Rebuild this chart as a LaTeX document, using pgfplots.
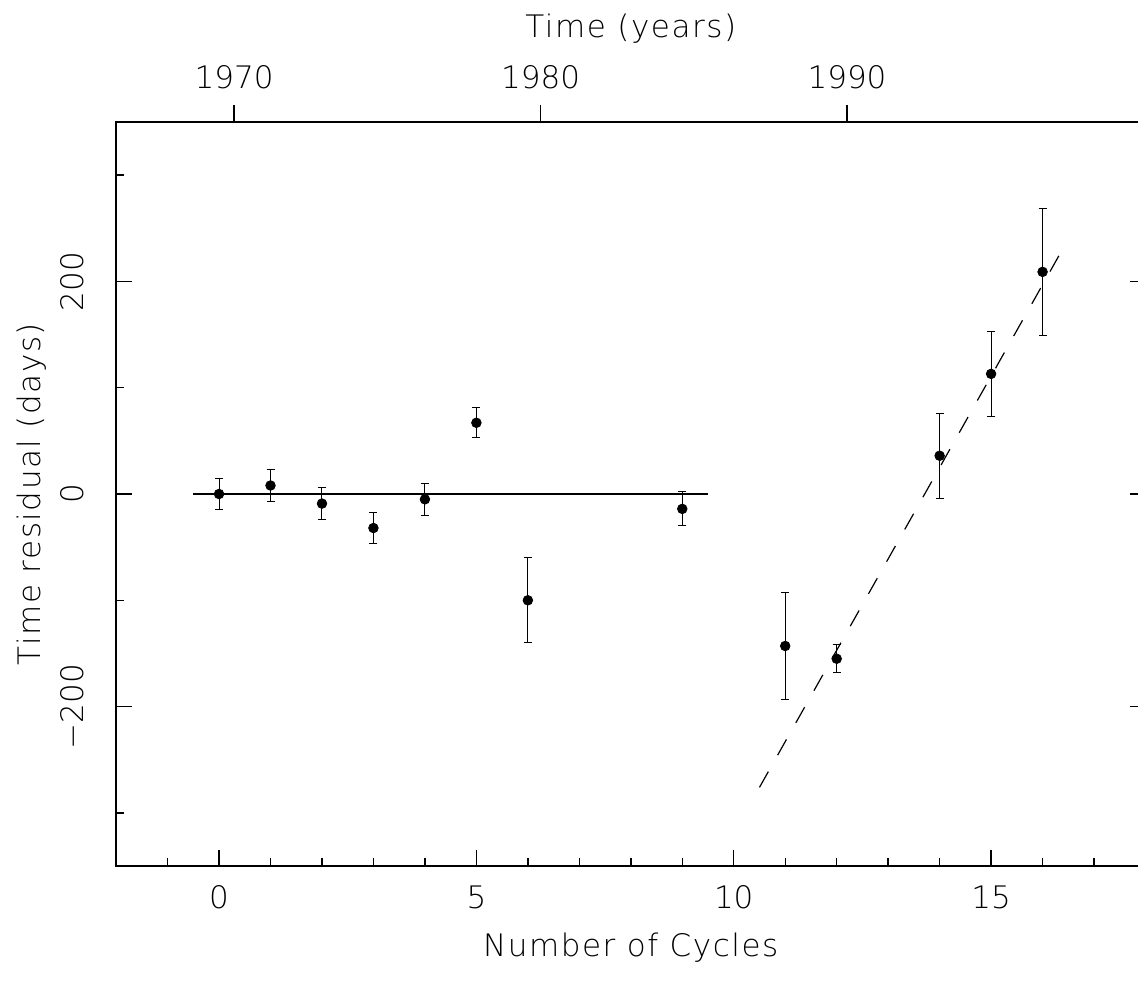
\documentclass[border=0pt]{standalone}
\usepackage{fontspec}
\setmainfont{DejaVu Sans ExtraLight}
\usepackage{pgfplots}
\pgfplotsset{compat=1.18}

\pgfplotstableread{
x    y     e
0    0     15
1    8     15
2    -9    15
3    -32   15
4    -5    15
5    67    14
6    -100  40
9    -14   16
11   -143  50
12   -155  13
14   36    40
15   113   40
16   209   60
}\residuals

\newcommand\lab{\fontsize{15.5}{18}\selectfont}
\newcommand\ttl{\fontsize{15.5}{18}\selectfont\addfontfeature{LetterSpace=5}}

\begin{document}
\begin{tikzpicture}
\begin{axis}[
    at={(0,0)}, anchor=south west,
    scale only axis,
    width=514.7pt, height=372pt,
    xmin=-2, xmax=18,
    ymin=-350, ymax=350,
    xtick={0,5,10,15},
    xticklabels={0,5,10,15},
    minor xtick={-1,1,2,3,4,6,7,8,9,11,12,13,14,16,17},
    ytick={-200,0,200},
    yticklabels={−200,0,200},
    minor ytick={-300,-100,100,300},
    xtick pos=left,
    ytick pos=both,
    tick align=inside,
    major tick length=8pt,
    minor tick length=4pt,
    every tick/.style={black, line width=0.7pt},
    axis line style={line width=0.7pt},
    ticklabel style={font=\lab},
    xticklabel style={anchor=base, yshift=-21pt},
    yticklabel style={anchor=base, xshift=-16.5pt, rotate=90},
    xlabel={Number of Cycles},
    ylabel={Time residual (days)},
    label style={font=\ttl},
    xlabel style={at={(axis description cs:0.5,-0.1223)}, anchor=base},
    ylabel style={at={(axis description cs:-0.073,0.5)}, anchor=base},
]
\addplot[black, line width=0.6pt] coordinates {(-0.5,0) (9.5,0)};
\addplot[black, line width=0.6pt, dash pattern=on 9pt off 9.5pt] coordinates {(10.5,-276) (16.35,227)};
\addplot[black, only marks, mark=*, mark size=2.4pt,
    error bars/.cd, y dir=both, y explicit,
    error bar style={line width=0.5pt, black},
    error mark options={rotate=90, black, line width=0.5pt, mark size=2pt}]
    table[x=x, y=y, y error=e] {\residuals};
\end{axis}
\begin{axis}[
    at={(0,0)}, anchor=south west,
    scale only axis,
    width=514.7pt, height=372pt,
    xmin=1966.15, xmax=1999.74,
    ymin=-350, ymax=350,
    axis x line*=top,
    axis y line=none,
    xtick={1970,1980,1990},
    xticklabels={1970,1980,1990},
    minor xtick={},
    tick align=outside,
    major tick length=8.5pt,
    every tick/.style={black, line width=0.7pt},
    axis line style={line width=0.7pt},
    ticklabel style={font=\lab},
    xticklabel style={anchor=base, yshift=8pt},
    xlabel={Time (years)},
    label style={font=\ttl},
    xlabel style={at={(axis description cs:0.5,1.1142)}, anchor=base},
]
\end{axis}
\pgfresetboundingbox
\path (-58.05pt,-62pt) rectangle (510.95pt,433pt);
\end{tikzpicture}
\end{document}
